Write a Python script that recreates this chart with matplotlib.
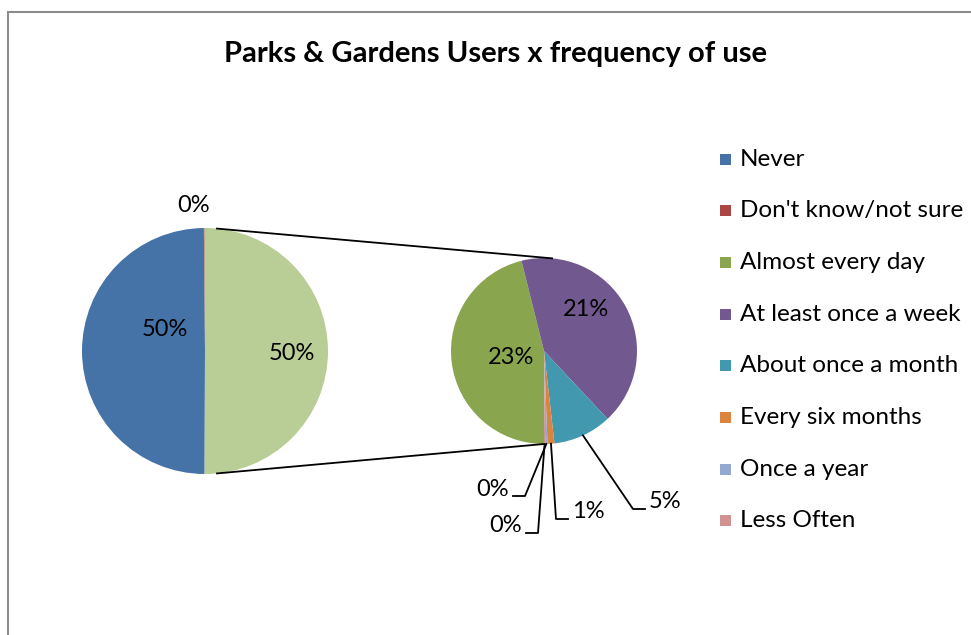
import numpy as np
import matplotlib.pyplot as plt

plt.rcParams['font.family'] = ['Lato', 'DejaVu Sans']

# 主饼图: Never / Don't know, 其余归入 Other 再展开到副饼图
main_labels = ['Never', "Don't know/not sure"]
main_values = [49.8, 0.1]
main_colors = ['#4572A7', '#AA4643']
other_color = '#B9CD96'

sub_labels = ['Almost every day', 'At least once a week', 'About once a month',
              'Every six months', 'Once a year', 'Less Often']
sub_values = [23.1, 21.0, 5.1, 0.6, 0.2, 0.1]
sub_colors = ['#89A54E', '#71588F', '#4198AF', '#DB843D', '#93A9CF', '#D19392']

title = 'Parks & Gardens Users x frequency of use'

W, H = 971, 635
other = sum(sub_values)
total = sum(main_values) + other


def pct(v):
    return '%d%%' % round(v / total * 100)


def edge(c, r, ang):
    a = np.deg2rad(ang)
    return c[0] + r * np.cos(a), c[1] + r * np.sin(a)


fig = plt.figure(figsize=(W / 100, H / 100), dpi=100)
ax = fig.add_axes([0, 0, 1, 1])

# 主饼图, Other 扇区朝右居中
c1, r1 = (205, H - 351), 123
other_deg = other / total * 360
start1 = 360 - other_deg / 2
big_vals = main_values + [other]
ax.pie(big_vals, colors=main_colors + [other_color], startangle=start1,
       counterclock=False, center=c1, radius=r1, frame=True,
       wedgeprops=dict(linewidth=0))

# 副饼图
c2, r2 = (544, H - 351), 93
wedges, _ = ax.pie(sub_values, colors=sub_colors, startangle=270,
                   counterclock=False, center=c2, radius=r2, frame=True,
                   wedgeprops=dict(linewidth=0))

ax.set_xlim(0, W)
ax.set_ylim(0, H)
ax.set_aspect('equal')
ax.axis('off')

# 外框(只露出左边和上边)
ax.plot([7.5, 7.5, W + 5], [-5, H - 11.5, H - 11.5], color='#8c8c8c', lw=1.5,
        solid_joinstyle='miter')

ax.text(495, H - 54, title, ha='center', va='center', fontsize=21,
        fontweight='bold')

fs = 17
ax.text(c1[0] - 40, c1[1] + 22, pct(main_values[0]), ha='center', va='center',
        fontsize=fs)
ax.text(c1[0] + 87, c1[1] - 3, pct(other), ha='center', va='center', fontsize=fs)
ax.text(c1[0] - 11, c1[1] + 145, pct(main_values[1]), ha='center', va='center',
        fontsize=fs)

# 两条连接线
for a1, a2 in [(84.4, 85.0), (-84.4, -90.0)]:
    x0, y0 = edge(c1, r1, a1)
    x1, y1 = edge(c2, r2, a2)
    ax.plot([x0, x1], [y0, y1], color='black', lw=1.3)

# 大扇区标签放在内部
ax.text(c2[0] - 33, c2[1] - 6, pct(sub_values[0]), ha='center', va='center',
        fontsize=fs)
ax.text(c2[0] + 42, c2[1] + 41, pct(sub_values[1]), ha='center', va='center',
        fontsize=fs)

# 小扇区用引线标注: (肘点 dx, dy, 横线方向)
leaders = {
    2: (89, -158, 1),
    3: (12, -168, 1),
    4: (-19, -145, -1),
    5: (-6, -182, -1),
}
for i, (dx, dy, side) in leaders.items():
    w = wedges[i]
    mid = (w.theta1 + w.theta2) / 2
    x0, y0 = edge(c2, r2, mid)
    xe, ye = c2[0] + dx, c2[1] + dy
    xh = xe + side * 12
    ax.plot([x0, xe, xh], [y0, ye, ye], color='black', lw=1.3)
    ax.text(xh + side * 4, ye + 7, pct(sub_values[i]),
            ha='left' if side > 0 else 'right', va='center', fontsize=fs)

# 图例
leg_labels = main_labels + sub_labels
leg_colors = main_colors + sub_colors
for k, (lab, col) in enumerate(zip(leg_labels, leg_colors)):
    y = H - 159 - k * 51.7
    ax.add_patch(plt.Rectangle((720, y - 5.5), 11, 11, color=col, lw=0))
    ax.text(740, y, lab, ha='left', va='center', fontsize=17.5)

fig.savefig('out.png', dpi=100)
